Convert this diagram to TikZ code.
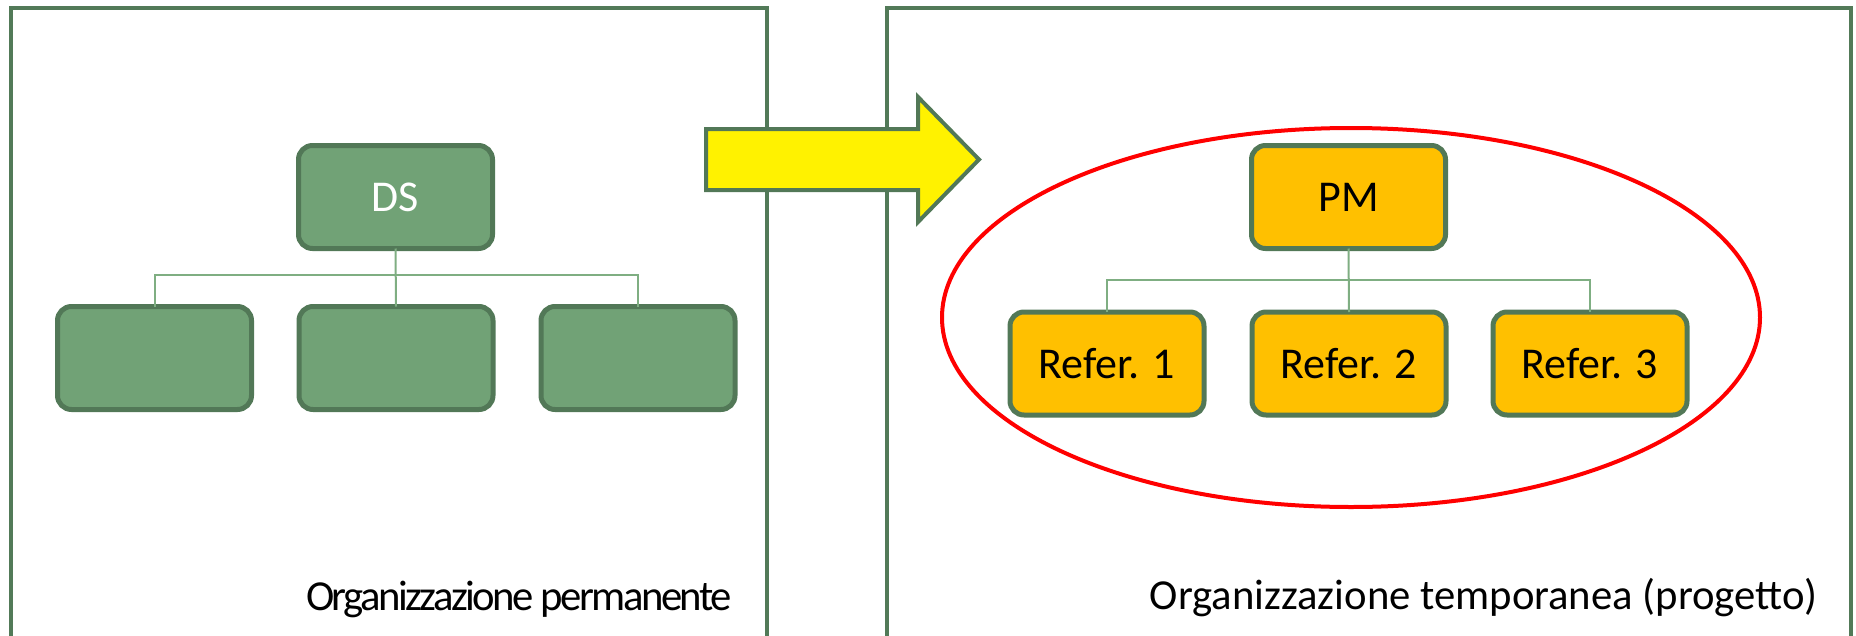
\documentclass[tikz,border=0pt]{standalone}
\usepackage{fontspec}
\setmainfont{Carlito}
\newfontfamily\tightfont[LetterSpace=-6]{Carlito}
\definecolor{boxgreen}{HTML}{71A276}
\definecolor{edgegreen}{HTML}{527857}
\definecolor{linkgreen}{HTML}{7FAE82}
\definecolor{framegreen}{HTML}{527A58}
\definecolor{boxorange}{HTML}{FFC000}
\begin{document}
\begin{tikzpicture}[x=1pt,y=-1pt,
  orgbox/.style={draw=edgegreen,line width=5pt,rounded corners=14pt,
    minimum width=194pt,minimum height=103pt,inner sep=0pt,outer sep=0pt,
    font=\fontsize{44}{48}\selectfont},
  greenbox/.style={orgbox,fill=boxgreen,text=white},
  orangebox/.style={orgbox,fill=boxorange,text=black},
  link/.style={draw=linkgreen,line width=2pt},
  frame/.style={draw=framegreen,line width=4pt},
  caption/.style={anchor=base east,inner sep=0pt,font=\fontsize{42.7}{46}\selectfont}]
\useasboundingbox (0,0) rectangle (1856,635);
\clip (0,0) rectangle (1856,635);

% panel frames, open at the bottom
\draw[frame] (11,660) -- (11,8) -- (767,8) -- (767,660);
\draw[frame] (887,660) -- (887,8) -- (1851,8) -- (1851,660);

% permanent organisation
\node[greenbox] (ds) at (395.5,197) {DS};
\node[greenbox] (g1) at (154.5,358) {};
\node[greenbox] (g2) at (396,358) {};
\node[greenbox] (g3) at (638,358) {};
\coordinate (gbus) at (0,275);
\draw[link] (ds.south) -- (g2.north);
\draw[link] (g1.north) -- (g1.north |- gbus) -- (g3.north |- gbus) -- (g3.north);

% temporary organisation (project)
\draw[red,line width=4pt] (1351,317.5) ellipse [x radius=409,y radius=189.5];
\node[orangebox] (pm) at (1348.5,197) {PM};
\node[orangebox] (r1) at (1107,363.5) {Refer. 1};
\node[orangebox] (r2) at (1349,363.5) {Refer. 2};
\node[orangebox] (r3) at (1590,363.5) {Refer. 3};
\coordinate (obus) at (0,280);
\draw[link] (pm.south) -- (r2.north);
\draw[link] (r1.north) -- (r1.north |- obus) -- (r3.north |- obus) -- (r3.north);

% transition arrow
\draw[draw=edgegreen,fill=yellow,line width=4pt,line join=miter]
  (706,129) -- (918,129) -- (918,97) -- (979,159.5) -- (918,222)
  -- (918,190) -- (706,190) -- cycle;

% captions
\node[caption] (capL) at (732,610) {\tightfont Organizzazione permanente};
\node[caption] (capR) at (1818,609) {Organizzazione temporanea (progetto)};
\end{tikzpicture}
\end{document}
